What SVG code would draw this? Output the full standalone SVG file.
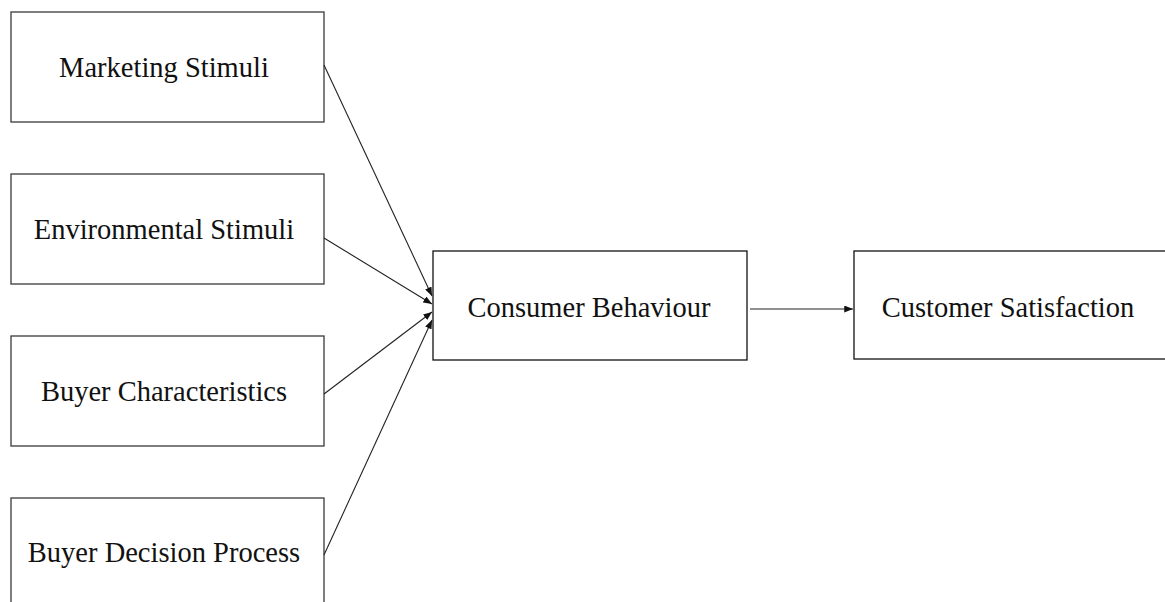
<svg xmlns="http://www.w3.org/2000/svg" width="1165" height="602" viewBox="0 0 1165 602">
<style>
.box{fill:#fff;stroke:#3a3a3a;stroke-width:1.3}
.box2{fill:#fff;stroke:#111;stroke-width:1.3}
.lbl{font-family:"Liberation Serif","Times New Roman",serif;font-size:28.5px;fill:#111;text-anchor:middle}
.con{stroke:#222;stroke-width:1.1;fill:none;marker-end:url(#ah)}
</style>
<defs>
<marker id="ah" viewBox="0 0 10 8" refX="10" refY="4" markerWidth="9" markerHeight="7" markerUnits="userSpaceOnUse" orient="auto">
<path d="M0,0 L10,4 L0,8 Z" fill="#111"/>
</marker>
</defs>
<rect width="1165" height="602" fill="#fff"/>
<g id="n-marketing"><rect class="box" x="11" y="12" width="313" height="110"/><text class="lbl" x="164" y="77">Marketing Stimuli</text></g>
<g id="n-environmental"><rect class="box" x="11" y="174" width="313" height="110"/><text class="lbl" x="164" y="239">Environmental Stimuli</text></g>
<g id="n-buyerchar"><rect class="box" x="11" y="336" width="313" height="110"/><text class="lbl" x="164" y="401">Buyer Characteristics</text></g>
<g id="n-buyerdec"><rect class="box" x="11" y="498" width="313" height="110"/><text class="lbl" x="164" y="562">Buyer Decision Process</text></g>
<g id="n-consumer"><rect class="box2" x="433" y="251" width="314" height="109"/><text class="lbl" x="589" y="317">Consumer Behaviour</text></g>
<g id="n-satisfaction"><rect class="box2" x="854" y="251" width="320" height="108"/><text class="lbl" x="1008" y="317">Customer Satisfaction</text></g>
<g id="connectors">
<line class="con" x1="324" y1="65" x2="432" y2="296"/>
<line class="con" x1="324" y1="238" x2="432" y2="304"/>
<line class="con" x1="324" y1="394" x2="432" y2="312"/>
<line class="con" x1="324" y1="555" x2="432" y2="320"/>
<line class="con" x1="750" y1="309" x2="853" y2="309"/>
</g>
</svg>
